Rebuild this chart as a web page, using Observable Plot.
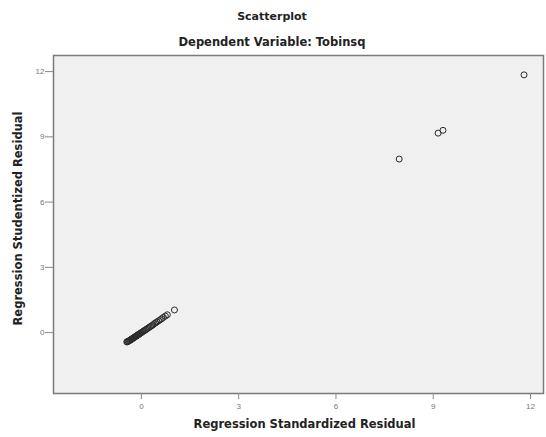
<!DOCTYPE html>
<html>
<head>
<meta charset="utf-8">
<script src="https://cdn.jsdelivr.net/npm/d3@7"></script>
<script src="https://cdn.jsdelivr.net/npm/@observablehq/plot@0.6"></script>
<style>
  html, body { margin: 0; padding: 0; background: #fff; }
  #wrap { position: relative; width: 546px; height: 437px; overflow: hidden; }
  .t { position: absolute; left: 0; width: 544px; text-align: center; font-family: "DejaVu Sans", sans-serif; font-weight: bold; color: #222; }
</style>
</head>
<body>
<div id="wrap">
  <div id="chart"></div>
  <div class="t" id="title" style="top:10px;font-size:11px;"></div>
  <div class="t" id="subtitle" style="top:35px;font-size:11.5px;"></div>
</div>
<script>
const title = "Scatterplot";
const subtitle = "Dependent Variable: Tobinsq";
const xLabel = "Regression Standardized Residual";
const yLabel = "Regression Studentized Residual";
const xTicks = [0, 3, 6, 9, 12];
const yTicks = [0, 3, 6, 9, 12];

// Regression standardized residuals (x) and studentized residuals (y)
const stdResid = [-0.45, -0.43, -0.41, -0.39, -0.37, -0.35, -0.33, -0.31, -0.29, -0.27,
  -0.25, -0.23, -0.21, -0.19, -0.17, -0.15, -0.13, -0.11, -0.09, -0.07,
  -0.05, -0.02, 0.01, 0.04, 0.07, 0.10, 0.13, 0.16, 0.20, 0.24,
  0.28, 0.32, 0.36, 0.40, 0.44, 0.48, 0.53, 0.58, 0.63, 0.68,
  0.74, 0.80, 1.02,
  7.95, 9.15, 9.30, 11.80];
const studResid = [-0.43, -0.42, -0.40, -0.39, -0.37, -0.35, -0.33, -0.31, -0.29, -0.27,
  -0.25, -0.23, -0.21, -0.19, -0.17, -0.15, -0.13, -0.11, -0.09, -0.07,
  -0.05, -0.02, 0.01, 0.04, 0.07, 0.10, 0.13, 0.16, 0.20, 0.24,
  0.28, 0.32, 0.36, 0.41, 0.45, 0.49, 0.54, 0.59, 0.64, 0.70,
  0.76, 0.82, 1.04,
  7.98, 9.17, 9.30, 11.85];

document.getElementById("title").textContent = title;
document.getElementById("subtitle").textContent = subtitle;

const data = stdResid.map((x, i) => ({x, y: studResid[i]}));

const chart = Plot.plot({
  width: 546,
  height: 437,
  marginLeft: 53,
  marginRight: 3,
  marginTop: 55,
  marginBottom: 44,
  style: {fontFamily: "'Liberation Sans', Arial, sans-serif", background: "#fff"},
  x: {domain: [-2.71, 12.4], ticks: xTicks, label: null},
  y: {domain: [-2.8, 12.74], ticks: yTicks, label: null},
  marks: [
    Plot.frame({fill: "#f0f0f0", stroke: null}),
    Plot.dot(data, {x: "x", y: "y", r: 3, stroke: "#2a2a2a", strokeWidth: 1, fill: "none"}),
    Plot.frame({stroke: "#7a7a7a", strokeWidth: 1.5}),
    Plot.axisX(xTicks, {tickSize: 6, stroke: "#888", fill: "#777", fontSize: 8, tickPadding: 4, label: null}),
    Plot.axisY(yTicks, {tickSize: 8, stroke: "#888", fill: "#777", fontSize: 8, tickPadding: 1, label: null}),
    Plot.text([xLabel], {frameAnchor: "bottom", dy: 34, dx: 6, text: d => d, fontSize: 11.5, fontWeight: "bold", fontFamily: "DejaVu Sans", fill: "#222"}),
    Plot.text([yLabel], {frameAnchor: "left", textAnchor: "middle", dx: -35, dy: -6, rotate: -90, text: d => d, fontSize: 11.5, fontWeight: "bold", fontFamily: "DejaVu Sans", fill: "#222"})
  ]
});
document.getElementById("chart").appendChild(chart);
</script>
</body>
</html>
